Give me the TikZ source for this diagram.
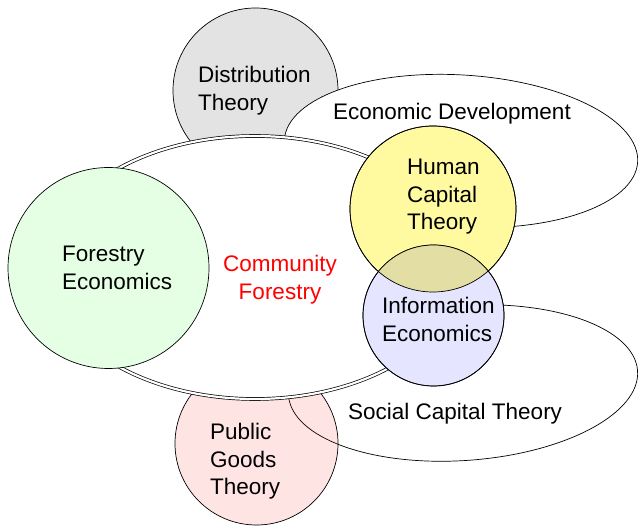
\documentclass[tikz,border=0pt]{standalone}
\usepackage{fontspec}
\setmainfont{Liberation Sans}
\usetikzlibrary{shapes.geometric}

\definecolor{distfill}{RGB}{227,227,227}
\definecolor{forestfill}{RGB}{229,255,229}
\definecolor{capfill}{RGB}{255,249,160}
\definecolor{infofill}{RGB}{229,229,255}
\definecolor{lensfill}{RGB}{227,222,163}
\definecolor{cfred}{RGB}{255,0,0}

% multi-line label whose reference point is the first baseline
\newcommand\txtblock[2][l]{\begin{tabular}[t]{@{}#1@{}}#2\end{tabular}}

\tikzset{
  outline/.style={draw=black, line width=0.7pt},
  topic/.style={circle, outline, inner sep=0pt},
  field/.style={ellipse, outline, fill=white, inner sep=0pt},
  label/.style={inner sep=0pt, font=\fontsize{22.5}{27.5}\selectfont},
}

\begin{document}
\begin{tikzpicture}[x=1pt, y=-1pt]
  \useasboundingbox (0,0) rectangle (638,526);
  \renewcommand\arraystretch{1}

  % background theories
  \node[topic, fill=distfill, minimum size=165pt] (dist) at (255.5,90.5) {};
  \node[field, minimum width=354pt, minimum height=152pt, rotate=-3.6] (econdev) at (461,151) {};
  \node[field, minimum width=350pt, minimum height=155pt, rotate=4] (social) at (463,383) {};
  \node[topic, fill=red, fill opacity=0.106, minimum size=163pt] (pubgoods) at (256.5,443.5) {};

  % central field, drawn with a double rim
  \node[ellipse, draw=black, fill=white, double, double distance=2.2pt, line width=0.7pt,
        inner sep=0pt, minimum width=415pt, minimum height=263pt] (cf) at (255,267.5) {};

  % foreground theories
  \node[topic, fill=forestfill, minimum size=201pt] (forestry) at (108.5,268) {};
  \node[topic, fill=capfill, minimum size=166pt] (humancap) at (433,209) {};
  \node[topic, fill=infofill, minimum size=141pt] (info) at (433.5,315.5) {};

  % shared area of human capital and information economics
  \begin{scope}
    \clip (humancap) circle[radius=83pt];
    \fill[lensfill] (info) circle[radius=70.5pt];
  \end{scope}
  \draw[outline] (humancap) circle[radius=83pt];
  \draw[outline] (info) circle[radius=70.5pt];

  % labels
  \node[label, anchor=base west] (distlabel) at (198,83) {\txtblock{Distribution\\Theory}};
  \node[label, anchor=base west] (econdevlabel) at (333,120) {Economic Development};
  \node[label, anchor=base west] (humancaplabel) at (407,175) {\txtblock{Human\\Capital\\Theory}};
  \node[label, anchor=base west] (infolabel) at (382,314) {\txtblock{Information\\Economics}};
  \node[label, anchor=base west] (forestrylabel) at (62,261.7) {\txtblock{Forestry\\Economics}};
  \node[label, anchor=base, text=cfred] (cflabel) at (280,271.7) {\txtblock[c]{Community\\Forestry}};
  \node[label, anchor=base west] (sociallabel) at (348,420) {Social Capital Theory};
  \node[label, anchor=base west] (pubgoodslabel) at (210,440) {\txtblock{Public\\Goods\\Theory}};
\end{tikzpicture}
\end{document}
